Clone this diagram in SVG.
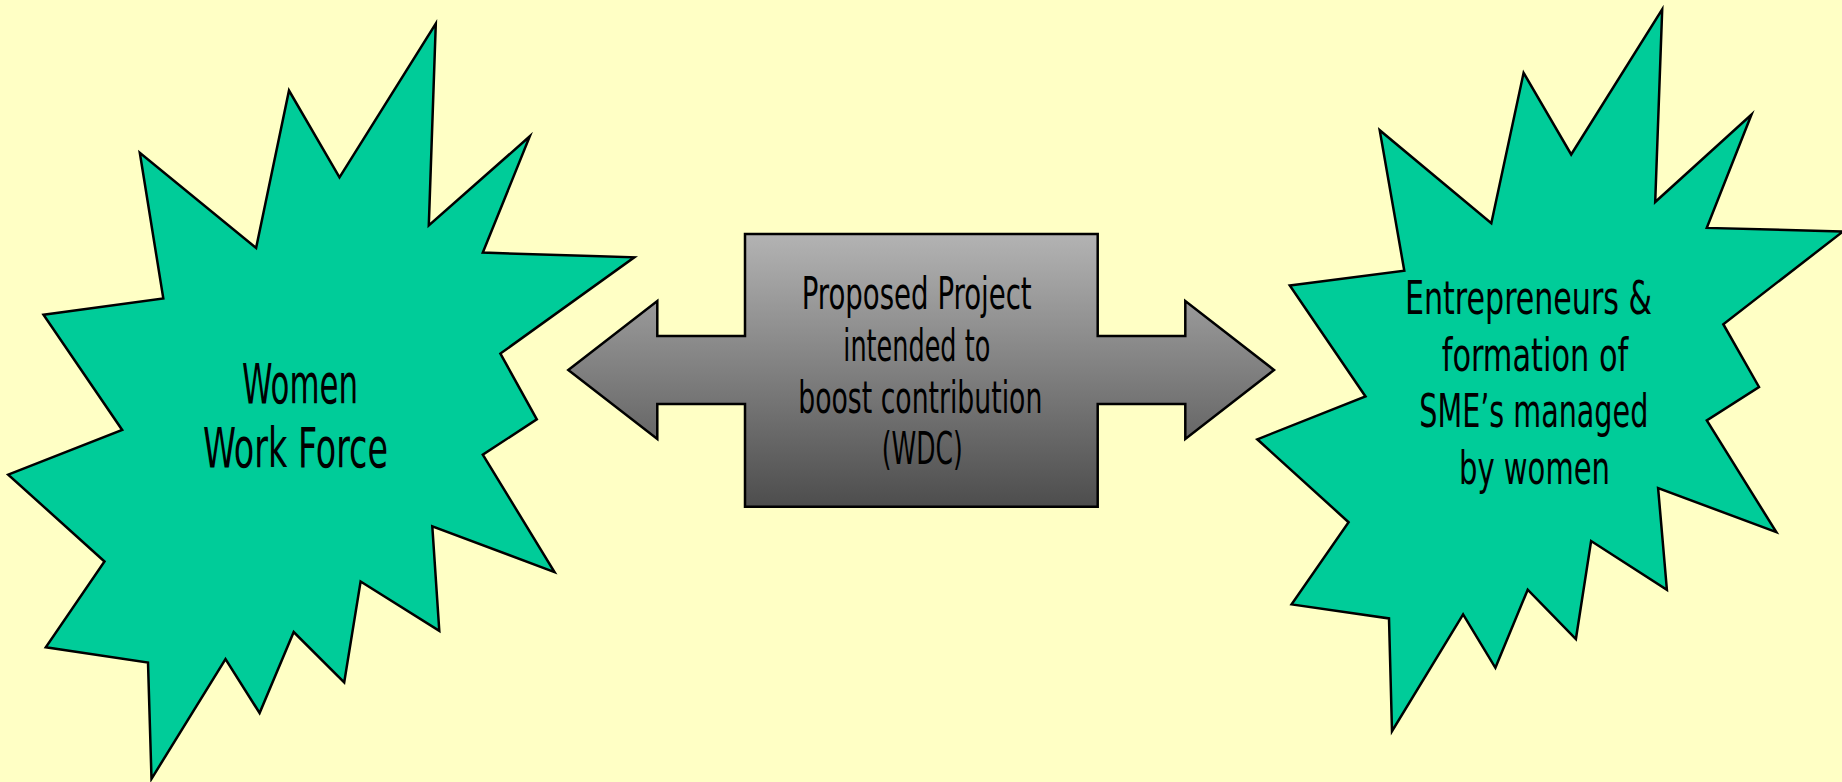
<svg xmlns="http://www.w3.org/2000/svg" width="1842" height="782" viewBox="0 0 1842 782">
  <style>
    .burst { fill: #00CC99; stroke: #000000; stroke-width: 2.5; stroke-linejoin: miter; stroke-miterlimit: 20; }
    .block { fill: url(#grayFade); stroke: #000000; stroke-width: 2.5; stroke-linejoin: miter; }
    .label { font-family: "Liberation Sans Narrow", "DejaVu Sans Condensed", Roboto, sans-serif; fill: #000000; }
    .big { font-size: 56px; }
    .mid { font-size: 47px; }
    .small { font-size: 44px; }
  </style>
  <defs>
    <linearGradient id="grayFade" gradientUnits="userSpaceOnUse" x1="0" y1="234" x2="0" y2="507">
      <stop offset="0" stop-color="#B3B3B3"/>
      <stop offset="1" stop-color="#4D4D4D"/>
    </linearGradient>
  </defs>

  <rect x="0" y="0" width="1842" height="782" fill="#FFFFC5"/>

  <!-- left explosion shape -->
  <g id="node-women-work-force">
    <polygon class="burst" points="435.8,23.5 428.8,225.5 529.8,136.3 482.8,252.6 634.3,257.3 500.4,353.6 536.8,419.4 482.8,454.6 554.5,572.1 432.3,526.3 439.3,630.8 360.6,581.5 344.2,682.5 293.7,632 259.6,713 225.5,659 151.5,778.8 148,662.5 45.8,647.3 104.5,561.5 8.2,474.6 122.2,430 43.5,314.8 163.3,298.4 139.8,152.7 256.1,247.9 289,90.5 339.5,177.4"/>
    <text class="label big" x="242" y="403" textLength="116" lengthAdjust="spacingAndGlyphs">Women</text>
    <text class="label big" x="203" y="467" textLength="185" lengthAdjust="spacingAndGlyphs">Work Force</text>
  </g>

  <!-- central block with double-headed arrow -->
  <g id="node-proposed-project">
    <path class="block" d="M568.3,370 L657.3,301 L657.3,336 L745,336 L745,234 L1097.7,234 L1097.7,336 L1185.3,336 L1185.3,301 L1274,370 L1185.3,439 L1185.3,404 L1097.7,404 L1097.7,506.7 L745,506.7 L745,404 L657.3,404 L657.3,439 Z"/>
    <text class="label small" x="801.7" y="309.3" textLength="230" lengthAdjust="spacingAndGlyphs">Proposed Project</text>
    <text class="label small" x="843.3" y="360.7" textLength="147" lengthAdjust="spacingAndGlyphs">intended to</text>
    <text class="label small" x="798.3" y="413.3" textLength="244" lengthAdjust="spacingAndGlyphs">boost contribution</text>
    <text class="label small" x="881.7" y="464" textLength="81" lengthAdjust="spacingAndGlyphs">(WDC)</text>
  </g>

  <!-- right explosion shape -->
  <g id="node-entrepreneurs">
    <polygon class="burst" points="1662.2,9.4 1655.2,202 1751.5,114.5 1706.8,227.9 1843,231.5 1723.3,324.2 1759,387 1706.8,420.5 1776.3,532.1 1658.1,488.1 1666.9,589.7 1591.1,541 1575.9,639 1527.7,589.7 1495.4,667.8 1463.1,614.4 1392,731.2 1389,618.4 1291.6,604.4 1348.6,522.2 1257.3,439.3 1365.5,396.5 1289.8,285.5 1404.3,270.8 1379.7,130.2 1491.3,223.2 1523.6,72.8 1571.2,154.5"/>
    <text class="label mid" x="1405" y="314" textLength="247" lengthAdjust="spacingAndGlyphs">Entrepreneurs &amp;</text>
    <text class="label mid" x="1441.7" y="370.5" textLength="186.6" lengthAdjust="spacingAndGlyphs">formation of</text>
    <text class="label mid" x="1419.3" y="427" textLength="229" lengthAdjust="spacingAndGlyphs">SME’s managed</text>
    <text class="label mid" x="1459" y="484" textLength="151" lengthAdjust="spacingAndGlyphs">by women</text>
  </g>

  <g id="connectors"/>
</svg>
